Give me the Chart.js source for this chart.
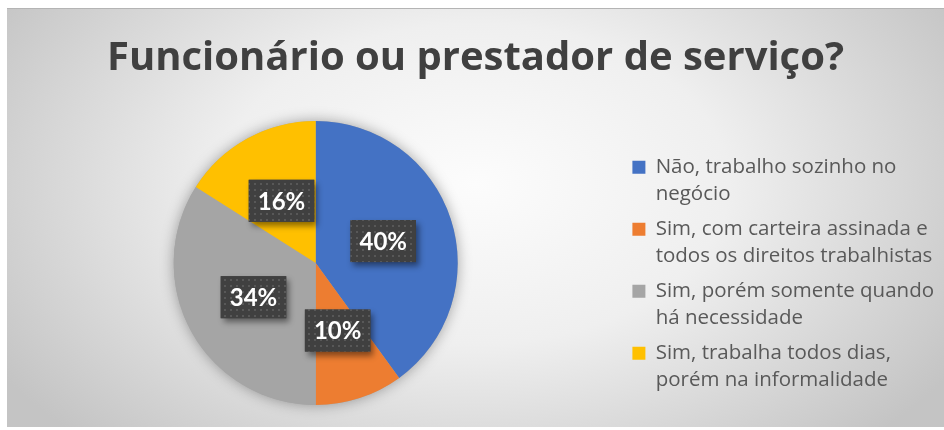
<!DOCTYPE html>
<html>
<head>
<meta charset="utf-8">
<script src="https://cdn.jsdelivr.net/npm/chart.js@4.4.0/dist/chart.umd.min.js"></script>
<style>
  html, body { margin: 0; padding: 0; background: #ffffff; }
  #contenedor { position: absolute; left: 7px; top: 8px; width: 937px; height: 419px; }
</style>
</head>
<body>
<div id="contenedor"><canvas id="graficoPizza" width="937" height="419"></canvas></div>
<script>
// Datos del gráfico
const titulo = "Funcionário ou prestador de serviço?";
const categorias = [
  ["Não, trabalho sozinho no", "negócio"],
  ["Sim, com carteira assinada e", "todos os direitos trabalhistas"],
  ["Sim, porém somente quando", "há necessidade"],
  ["Sim, trabalha todos dias,", "porém na informalidade"],
];
const porcentajes = [40, 10, 34, 16];
const colores = ["#4472C4", "#ED7D31", "#A5A5A5", "#FFC000"];

// Fondo con degradado radial (estilo Excel)
const fondoDegradado = {
  id: "fondoDegradado",
  beforeDraw(chart) {
    const { ctx, width, height } = chart;
    const cx = width * 0.5;
    const cy = height * 0.42;
    const rx = width * 0.6;
    const ry = height * 0.85;
    ctx.save();
    ctx.translate(cx, cy);
    ctx.scale(1, ry / rx);
    const g = ctx.createRadialGradient(0, 0, 0, 0, 0, rx);
    g.addColorStop(0, "#fcfcfc");
    g.addColorStop(0.45, "#efefef");
    g.addColorStop(1, "#c4c4c4");
    ctx.fillStyle = g;
    ctx.fillRect(-cx, -cy * rx / ry, width, height * rx / ry);
    ctx.restore();
    // línea superior del borde
    ctx.save();
    ctx.fillStyle = "#b4b4b4";
    ctx.fillRect(0, 0, width, 1);
    ctx.restore();
  },
};

// Sombra suave alrededor de la pizza
const sombraPizza = {
  id: "sombraPizza",
  beforeDatasetsDraw(chart) {
    const arco = chart.getDatasetMeta(0).data[0];
    if (!arco) return;
    const { ctx } = chart;
    ctx.save();
    ctx.shadowColor = "rgba(0,0,0,0.35)";
    ctx.shadowBlur = 14;
    ctx.beginPath();
    ctx.arc(arco.x, arco.y, arco.outerRadius, 0, Math.PI * 2);
    ctx.fillStyle = "#a5a5a5";
    ctx.fill();
    ctx.restore();
  },
};

// Patrón de puntos para las etiquetas
function crearPatron(ctx) {
  const c = document.createElement("canvas");
  c.width = 6;
  c.height = 6;
  const p = c.getContext("2d");
  p.fillStyle = "#404040";
  p.fillRect(0, 0, 6, 6);
  p.fillStyle = "#585858";
  p.fillRect(1, 1, 2, 2);
  return ctx.createPattern(c, "repeat");
}

// Etiquetas de porcentaje
const etiquetasPorcentaje = {
  id: "etiquetasPorcentaje",
  afterDatasetsDraw(chart) {
    const { ctx } = chart;
    const meta = chart.getDatasetMeta(0);
    const patron = crearPatron(ctx);
    ctx.save();
    ctx.font = "bold 24px Lato";
    meta.data.forEach((arco, i) => {
      const { x, y } = arco.tooltipPosition();
      const texto = porcentajes[i] + "%";
      const w = ctx.measureText(texto).width + 18;
      const h = 42;
      ctx.save();
      ctx.shadowColor = "rgba(0,0,0,0.45)";
      ctx.shadowBlur = 6;
      ctx.shadowOffsetX = 3;
      ctx.shadowOffsetY = 4;
      ctx.fillStyle = "#404040";
      ctx.fillRect(x - w / 2, y - h / 2, w, h);
      ctx.restore();
      ctx.fillStyle = patron;
      ctx.fillRect(x - w / 2, y - h / 2, w, h);
      ctx.fillStyle = "#ffffff";
      ctx.textAlign = "center";
      ctx.textBaseline = "middle";
      ctx.fillText(texto, x, y + 1);
    });
    ctx.restore();
  },
};

const ctx = document.getElementById("graficoPizza").getContext("2d");
new Chart(ctx, {
  type: "pie",
  data: {
    labels: categorias,
    datasets: [
      {
        data: porcentajes,
        backgroundColor: colores,
        borderWidth: 0,
      },
    ],
  },
  options: {
    responsive: false,
    animation: false,
    layout: { padding: { top: 0, bottom: 22, left: 0, right: 0 } },
    plugins: {
      title: {
        display: true,
        text: titulo,
        color: "#404040",
        font: { family: "Open Sans", size: 40, weight: "bold" },
        padding: { top: 27, bottom: 38 },
      },
      legend: {
        display: true,
        position: "right",
        align: "end",
        labels: {
          color: "#595959",
          font: { family: "Open Sans", size: 20.5, lineHeight: "27px" },
          boxWidth: 13,
          boxHeight: 13,
          padding: 8,
        },
      },
      tooltip: { enabled: false },
    },
  },
  plugins: [fondoDegradado, sombraPizza, etiquetasPorcentaje],
});
</script>
</body>
</html>
